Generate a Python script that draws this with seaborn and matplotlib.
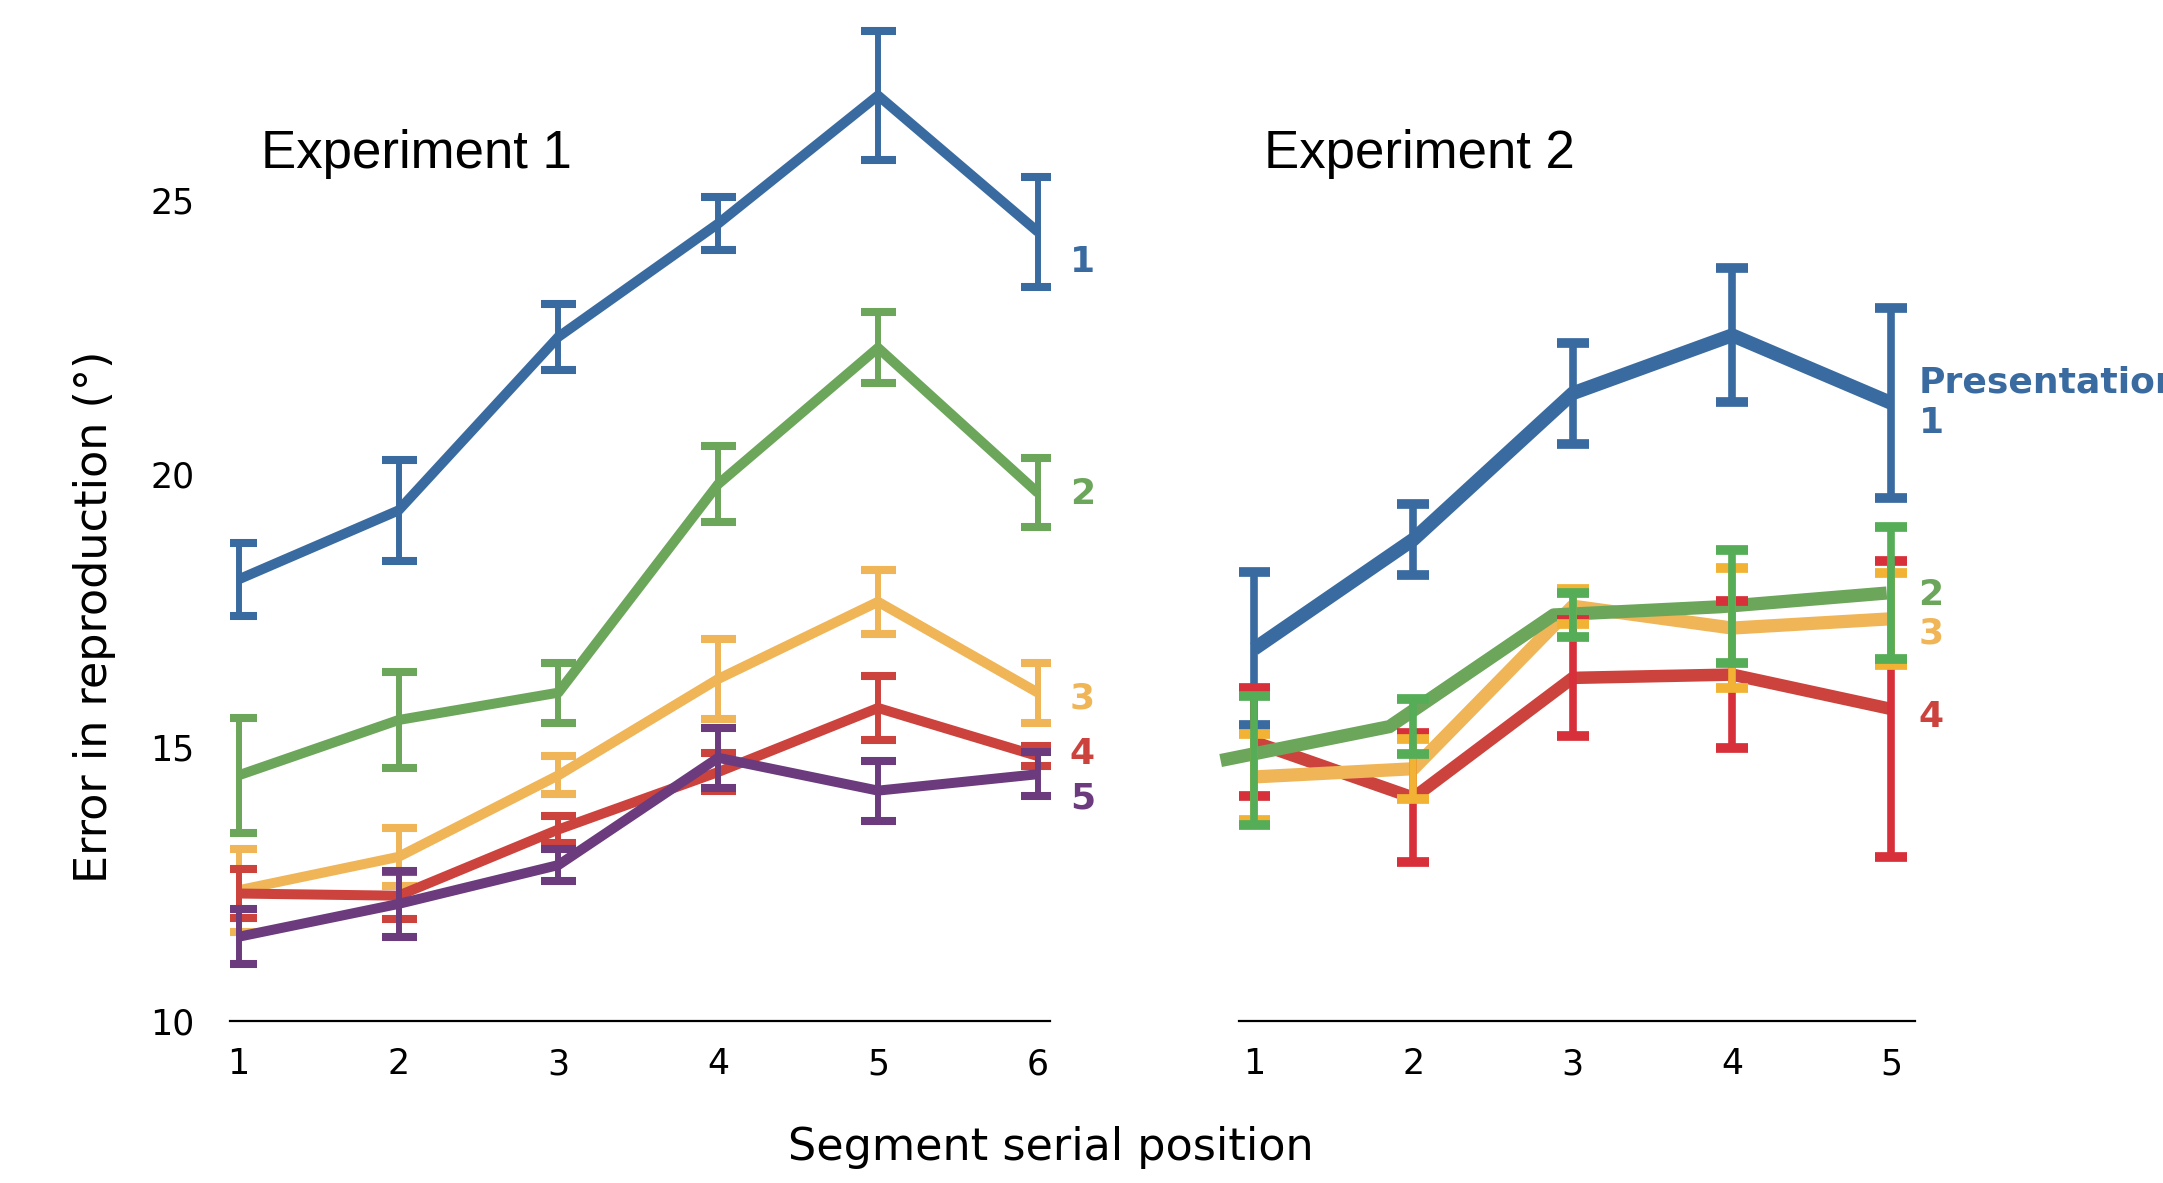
import numpy as np
import pandas as pd
import matplotlib
matplotlib.use("Agg")
import matplotlib.pyplot as plt
import seaborn as sns

# ---------------- data ----------------
exp1_positions = [1, 2, 3, 4, 5, 6]
exp1_p1 = [18.07, 19.33, 22.50, 24.57, 26.91, 24.42]
exp1_p1_err = [0.67, 0.92, 0.60, 0.48, 1.18, 1.00]
exp1_p2 = [14.49, 15.50, 16.00, 19.81, 22.30, 19.65]
exp1_p2_err = [1.05, 0.87, 0.55, 0.70, 0.65, 0.63]
exp1_p3 = [12.39, 13.00, 14.49, 16.25, 17.66, 16.00]
exp1_p3_err = [0.76, 0.53, 0.35, 0.73, 0.58, 0.55]
exp1_p4 = [12.33, 12.29, 13.50, 14.55, 15.72, 14.84]
exp1_p4_err = [0.45, 0.43, 0.25, 0.35, 0.58, 0.18]
exp1_p5 = [11.54, 12.14, 12.85, 14.81, 14.21, 14.51]
exp1_p5_err = [0.50, 0.60, 0.30, 0.55, 0.55, 0.40]

exp2_positions = [1, 2, 3, 4, 5]
exp2_p1 = [16.80, 18.80, 21.47, 22.53, 21.29]
exp2_p1_err = [1.40, 0.65, 0.92, 1.22, 1.74]
exp2_p2 = [14.76, 15.38, 17.42, 17.57, 17.82]
exp2_p2_err = [1.17, 0.50, 0.40, 1.03, 1.21]
exp2_p2_line_positions = [0.79, 1.85, 2.88, 3.93, 4.97]  # line is drawn slightly offset in the original
exp2_p3 = [14.46, 14.61, 17.58, 17.18, 17.35]
exp2_p3_err = [0.78, 0.55, 0.32, 1.10, 0.84]
exp2_p4 = [15.10, 14.08, 16.27, 16.33, 15.70]
exp2_p4_err = [0.98, 1.18, 1.06, 1.34, 2.71]

y_ticks = [10, 15, 20, 25]
exp1_label_names = ["1", "2", "3", "4", "5"]
exp1_label_y = [23.86, 19.63, 15.90, 14.87, 14.06]
exp2_label_names = ["Presentation\n1", "2", "3", "4"]
exp2_label_y = [21.30, 17.79, 17.08, 15.55]

# ---------------- style ----------------
sns.set_style("white")
plt.rcParams["font.family"] = ["DejaVu Sans"]
plt.rcParams["text.color"] = "black"
plt.rcParams["xtick.color"] = "black"
plt.rcParams["ytick.color"] = "black"

line_colors = {"1": "#3a6ba0", "2": "#6ca65a", "3": "#efb557", "4": "#cc433d", "5": "#6b3b7e"}
bar_colors2 = {"1": "#3a6ba0", "2": "#55ad57", "3": "#f2b233", "4": "#d7303a"}

W, H = 2163, 1183
fig = plt.figure(figsize=(W / 100, H / 100), dpi=100)
ax1 = fig.add_axes([0.1065, 0.1369, 0.3791, 0.8513])
ax2 = fig.add_axes([0.5728, 0.1369, 0.3125, 0.8513])

# ---------- Experiment 1 ----------
exp1_series = {"1": (exp1_p1, exp1_p1_err), "2": (exp1_p2, exp1_p2_err),
               "3": (exp1_p3, exp1_p3_err), "4": (exp1_p4, exp1_p4_err),
               "5": (exp1_p5, exp1_p5_err)}
rows = []
for k, (vals, errs) in exp1_series.items():
    for x, v, e in zip(exp1_positions, vals, errs):
        rows.append({"position": x, "value": v, "err": e, "series": k})
df1 = pd.DataFrame(rows)

for i, k in enumerate(exp1_series):
    d = df1[df1.series == k]
    sns.lineplot(data=d, x="position", y="value", ax=ax1, color=line_colors[k],
                 linewidth=7.2, zorder=2 + i, solid_capstyle="butt")
    ax1.errorbar(d.position, d.value, yerr=d.err, fmt="none", ecolor=line_colors[k],
                 elinewidth=4.3, capsize=12.6, capthick=5.8, zorder=2 + i)

for name, yy in zip(exp1_label_names, exp1_label_y):
    ax1.text(6.2, yy, name, color=line_colors[name], fontsize=26, fontweight="bold",
             va="center", ha="left")

# ---------- Experiment 2 ----------
exp2_series = {"1": (exp2_p1, exp2_p1_err), "2": (exp2_p2, exp2_p2_err),
               "3": (exp2_p3, exp2_p3_err), "4": (exp2_p4, exp2_p4_err)}
rows = []
for k, (vals, errs) in exp2_series.items():
    xs = exp2_p2_line_positions if k == "2" else exp2_positions
    for x, xb, v, e in zip(xs, exp2_positions, vals, errs):
        rows.append({"position": x, "bar_position": xb, "value": v, "err": e, "series": k})
df2 = pd.DataFrame(rows)

line_order2 = ["4", "3", "2", "1"]
lw2 = {"1": 10.0, "2": 9.5, "3": 9.5, "4": 9.0}
for i, k in enumerate(line_order2):
    d = df2[df2.series == k]
    sns.lineplot(data=d, x="position", y="value", ax=ax2, color=line_colors[k],
                 linewidth=lw2[k], zorder=2 + i, solid_capstyle="butt")
for line in ax2.lines:
    line.set_clip_on(False)

bar_order2 = ["1", "4", "3", "2"]
for i, k in enumerate(bar_order2):
    d = df2[df2.series == k]
    ax2.errorbar(d.bar_position, d.value, yerr=d.err, fmt="none", ecolor=bar_colors2[k],
                 elinewidth=5.5, capsize=11.5, capthick=7.0, zorder=10 + i)

for name, yy in zip(exp2_label_names, exp2_label_y):
    key = name[-1]
    ax2.text(5.17, yy, name, color=line_colors[key], fontsize=26,
             fontweight="bold", va="center", ha="left", linespacing=1.25)

# ---------- axes cosmetics ----------
for ax in (ax1, ax2):
    sns.despine(ax=ax, left=True, top=True, right=True, bottom=False)
    ax.spines["bottom"].set_linewidth(1.6)
    ax.spines["bottom"].set_color("black")
    ax.set_ylim(10, 28.4)
    ax.set_xlabel("")
    ax.set_ylabel("")
    ax.tick_params(axis="both", length=0, labelsize=25, colors="black")
    ax.tick_params(axis="x", pad=19)
    ax.tick_params(axis="y", pad=26)
    ax.grid(False)
    ax.set_facecolor("none")

ax1.set_xlim(0.948, 6.078)
ax1.set_xticks(exp1_positions)
ax1.set_xticklabels([str(p) for p in exp1_positions])
ax1.set_yticks(y_ticks)
ax1.set_yticklabels([str(t) for t in y_ticks])

ax2.set_xlim(0.905, 5.147)
ax2.set_xticks(exp2_positions)
ax2.set_xticklabels([str(p) for p in exp2_positions])
ax2.set_yticks([])

ax1.text(1.14, 25.58, "Experiment 1", fontsize=38, family=["Liberation Sans"],
         va="baseline", ha="left", color="black")
ax2.text(1.06, 25.58, "Experiment 2", fontsize=38, family=["Liberation Sans"],
         va="baseline", ha="left", color="black")

fig.text(0.486, 0.030, "Segment serial position", fontsize=32, ha="center", va="center",
         color="black")
fig.text(0.0435, 0.4785, "Error in reproduction (°)", fontsize=32, ha="center",
         va="center", rotation=90, color="black")

fig.savefig("out.png", dpi=100)
